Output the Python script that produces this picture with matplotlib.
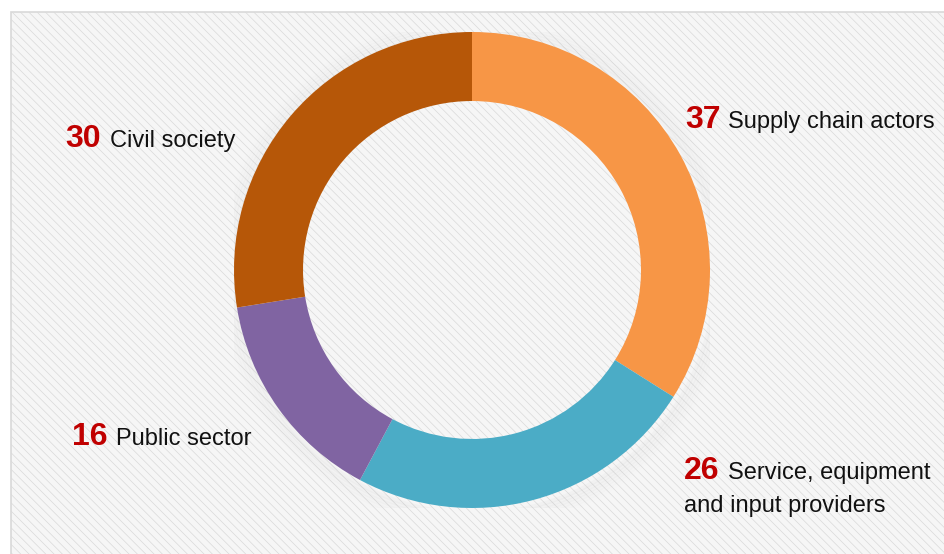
"""Donut chart: stakeholder groups by count."""
import matplotlib
matplotlib.use("Agg")
import matplotlib.pyplot as plt
from matplotlib.patches import Rectangle, Circle

# data
groups = ["Supply chain actors", "Service, equipment\nand input providers",
          "Public sector", "Civil society"]
counts = [37, 26, 16, 30]
colors = ["#F79646", "#4BACC6", "#8064A2", "#B65708"]

W, H = 944, 554
plt.rcParams["font.family"] = ["Liberation Sans", "DejaVu Sans"]
plt.rcParams["hatch.color"] = "#ECECEC"
plt.rcParams["hatch.linewidth"] = 0.5

fig = plt.figure(figsize=(W / 100, H / 100), dpi=100)
fig.patch.set_facecolor("white")

# light textured panel behind the chart
bg = fig.add_axes([0, 0, 1, 1], zorder=0)
bg.set_xlim(0, W)
bg.set_ylim(H, 0)
bg.axis("off")
bg.add_patch(Rectangle((11, 12), W + 20, H + 20, facecolor="#F6F6F6",
                       edgecolor="#D9D9D9", linewidth=1.2, hatch="\\\\\\\\"))

# donut
cx, cy, r = 472, 270, 238
ax = fig.add_axes([(cx - r) / W, (H - cy - r) / H, 2 * r / W, 2 * r / H], zorder=1)
ax.set_facecolor("none")
# faint soft shadow around the ring
for k in range(6):
    ax.add_patch(Circle((0.012, -0.012), 1 + 0.012 * (k + 1), facecolor="none",
                        edgecolor="#9A9A9A", linewidth=3, alpha=0.05 * (6 - k) / 6))
ax.pie(counts, colors=colors, startangle=90, counterclock=False, radius=1,
       wedgeprops=dict(width=0.29, edgecolor="none"))
ax.set_xlim(-1, 1)
ax.set_ylim(-1, 1)
ax.set_aspect("equal")
ax.axis("off")

# labels: (number x, label x, baseline y) in pixels
label_pos = [(685, 728, 128), (684, 728, 479), (72, 116, 445), (65, 110, 147)]
for (nx, lx, by), n, name in zip(label_pos, counts, groups):
    fig.text(nx / W, 1 - by / H, str(n), color="#C00000", fontsize=23,
             fontweight="bold", va="baseline", ha="left")
    first, *rest = name.split("\n")
    fig.text(lx / W, 1 - by / H, first, color="#111111", fontsize=17,
             va="baseline", ha="left")
    for i, line in enumerate(rest, 1):
        fig.text(nx / W, 1 - (by + 33 * i) / H, line, color="#111111",
                 fontsize=17, va="baseline", ha="left")

fig.savefig("out.png", dpi=100)
